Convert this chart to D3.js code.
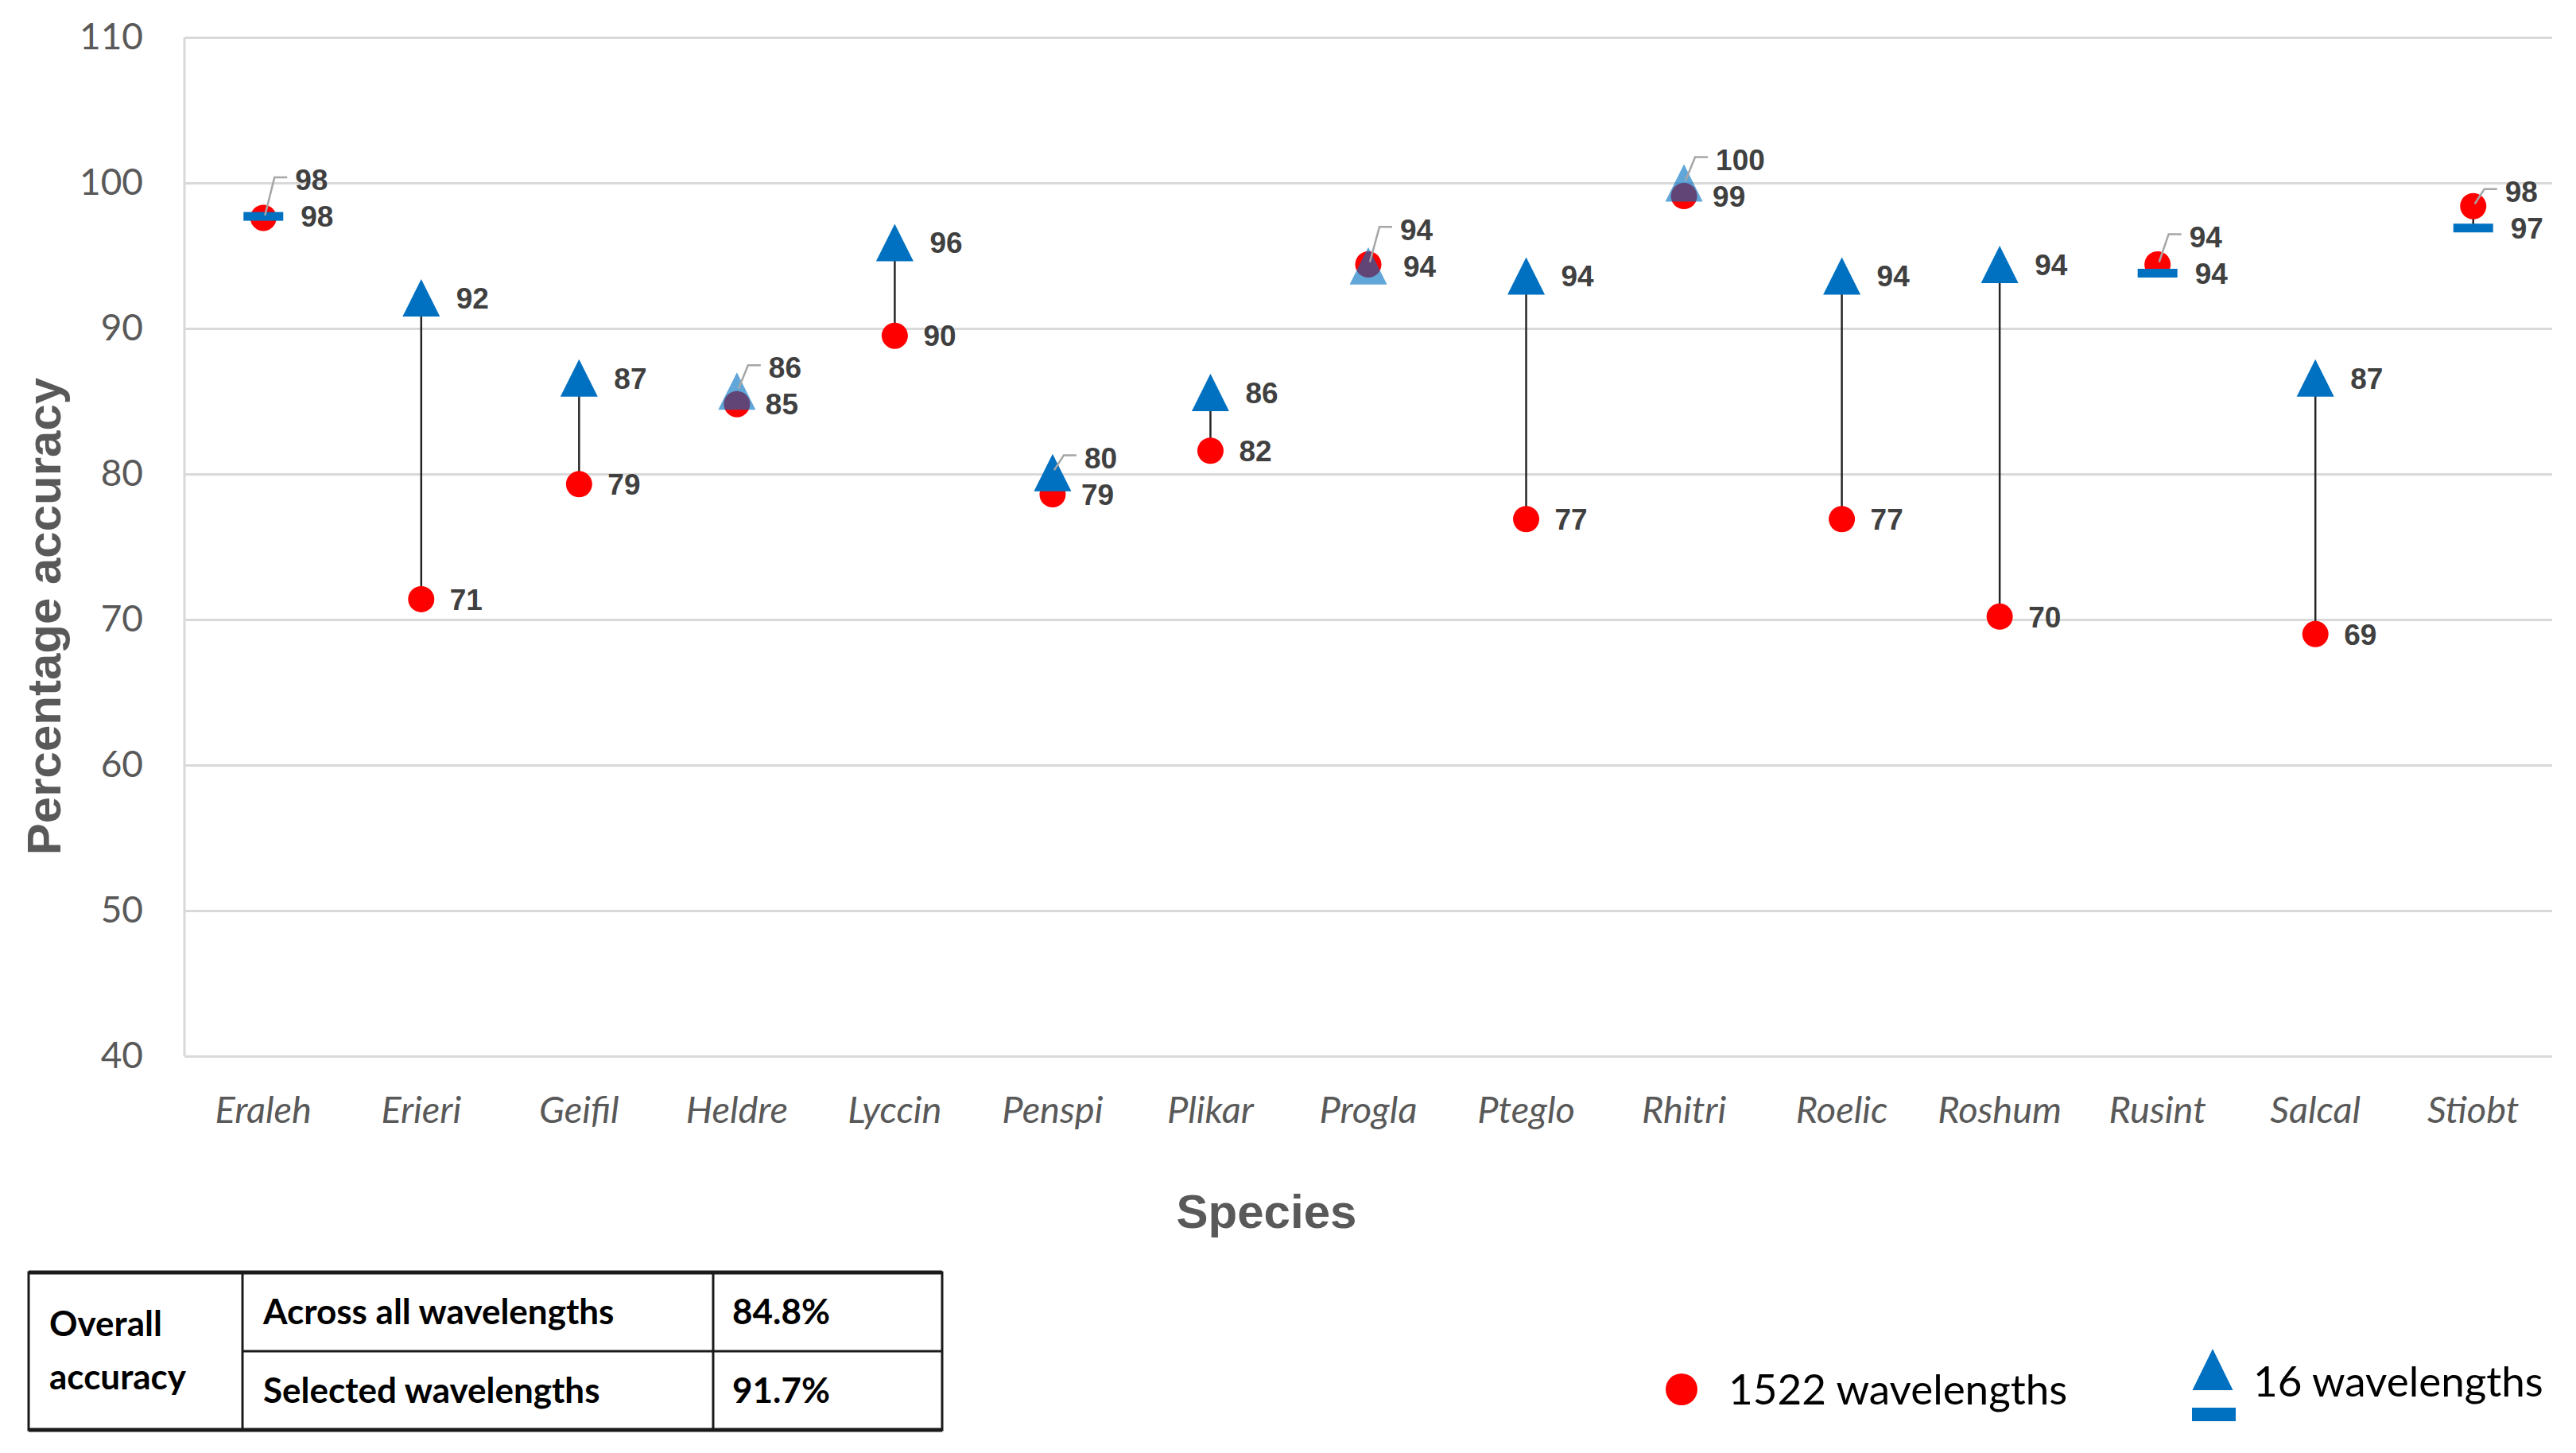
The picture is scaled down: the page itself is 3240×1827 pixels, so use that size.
<!DOCTYPE html>
<html>
<head>
<meta charset="utf-8">
<style>
  body { margin: 0; background: #fff; }
  svg { display: block; }
</style>
</head>
<body>
<svg width="3240" height="1827"></svg>
<script src="https://d3js.org/d3.v7.min.js"></script>
<script>

var species = ["Eraleh", "Erieri", "Geifil", "Heldre", "Lyccin", "Penspi", "Plikar", "Progla",
               "Pteglo", "Rhitri", "Roelic", "Roshum", "Rusint", "Salcal", "Stiobt"];

// accuracy with all 1522 wavelengths (red circles)
var all1522 = [97.6, 71.4, 79.3, 84.8, 89.5, 78.6, 81.6, 94.4, 76.9, 99.1, 76.9, 70.2, 94.4, 69.0, 98.4];

// accuracy with the 16 selected wavelengths (blue triangles / bars)
var sel16 = [97.7, 92.1, 86.6, 85.7, 95.9, 80.1, 85.6, 94.3, 93.6, 100.0, 93.6, 94.4, 93.8, 86.6, 96.9];
var selMarker = ["dash", "triangle", "triangle", "triangle", "triangle", "triangle", "triangle", "triangle",
                 "triangle", "triangle", "triangle", "triangle", "dash", "triangle", "dash"];

var yTicks = [40, 50, 60, 70, 80, 90, 100, 110];

var tableRows = ["Across all wavelengths", "Selected wavelengths"];
var tableValues = ["84.8%", "91.7%"];

var legendLabels = ["1522 wavelengths", "16 wavelengths"];

var svg = d3.select("svg"),
    margin = {top: 47, right: 30, bottom: 499, left: 232},
    width = +svg.attr("width") - margin.left - margin.right,
    height = +svg.attr("height") - margin.top - margin.bottom,
    g = svg.append("g").attr("transform", "translate(" + margin.left + "," + margin.top + ")");

var red = "#ff0000", blue = "#0070c0", grey = "#595959";

var x = d3.scaleBand().domain(species).range([0, width]);
var y = d3.scaleLinear().domain([40, 110]).range([height, 0]);

// gridlines + y labels
var yAxis = g.append("g")
    .attr("class", "y-axis")
    .call(d3.axisLeft(y).tickValues(yTicks).tickSize(-width).tickPadding(52));
yAxis.select(".domain").remove();
yAxis.selectAll("line").attr("stroke", "#d9d9d9").attr("stroke-width", 3);
yAxis.selectAll("text")
    .attr("fill", grey)
    .attr("font-family", "Lato, sans-serif")
    .attr("font-size", 46);

g.append("line")
    .attr("x1", 0).attr("x2", 0)
    .attr("y1", 0).attr("y2", height)
    .attr("stroke", "#d9d9d9").attr("stroke-width", 3);

// x labels
var xAxis = g.append("g")
    .attr("transform", "translate(0," + height + ")")
    .call(d3.axisBottom(x).tickSize(0));
xAxis.select(".domain").remove();
xAxis.selectAll("text")
    .attr("y", 84).attr("dy", 0)
    .attr("fill", grey)
    .attr("font-family", "Lato, sans-serif")
    .attr("font-style", "italic")
    .attr("font-size", 47);

// axis titles
svg.append("text")
    .attr("transform", "translate(76,775) rotate(-90)")
    .attr("text-anchor", "middle")
    .attr("fill", grey)
    .attr("font-family", "Liberation Sans, Arial, sans-serif")
    .attr("font-weight", "bold")
    .attr("font-size", 60)
    .text("Percentage accuracy");

svg.append("text")
    .attr("x", 1593).attr("y", 1544)
    .attr("text-anchor", "middle")
    .attr("fill", grey)
    .attr("font-family", "Liberation Sans, Arial, sans-serif")
    .attr("font-weight", "bold")
    .attr("font-size", 60)
    .text("Species");

var cx = function(i) { return x(species[i]) + x.bandwidth() / 2; };
var idx = d3.range(species.length);

// connectors
g.append("g").selectAll("line")
    .data(idx)
    .enter().append("line")
    .attr("x1", cx).attr("x2", cx)
    .attr("y1", function(i) { return y(all1522[i]); })
    .attr("y2", function(i) { return y(sel16[i]); })
    .attr("stroke", "#262626")
    .attr("stroke-width", 2.5);

// red circles
g.append("g").selectAll("circle")
    .data(idx)
    .enter().append("circle")
    .attr("cx", cx)
    .attr("cy", function(i) { return y(all1522[i]); })
    .attr("r", 16.5)
    .attr("fill", red);

// blue triangles / bars; nearly coincident triangles are see-through
var triW = 47, triH = 47, dashW = 50, dashH = 11;
function triPath(px, py, w, h) {
  return "M" + px + "," + (py - h / 2) + "L" + (px + w / 2) + "," + (py + h / 2) +
         "L" + (px - w / 2) + "," + (py + h / 2) + "Z";
}
g.append("g").selectAll("path")
    .data(idx.filter(function(i) { return selMarker[i] == "triangle"; }))
    .enter().append("path")
    .attr("d", function(i) { return triPath(cx(i), y(sel16[i]), triW, triH); })
    .attr("fill", blue)
    .attr("fill-opacity", function(i) { return Math.abs(sel16[i] - all1522[i]) < 1 ? 0.62 : 1; });

g.append("g").selectAll("rect")
    .data(idx.filter(function(i) { return selMarker[i] == "dash"; }))
    .enter().append("rect")
    .attr("x", function(i) { return cx(i) - dashW / 2; })
    .attr("y", function(i) { return y(sel16[i]) - dashH / 2; })
    .attr("width", dashW)
    .attr("height", dashH)
    .attr("fill", blue);

// data labels, pushed apart where two points crowd each other
var labels = [];
idx.forEach(function(i) {
  var yc = y(all1522[i]), ys = y(sel16[i]);
  var offC = 36, offS = selMarker[i] == "dash" ? 47 : 44;
  var a = {x: cx(i) + offC, y: yc, t: Math.round(all1522[i]), px: cx(i), py: yc, leader: false};
  var b = {x: cx(i) + offS, y: ys, t: Math.round(sel16[i]), px: cx(i), py: ys, leader: false};
  if (Math.abs(yc - ys) < 44) {
    var upper = (sel16[i] - all1522[i] > 0.5) ? b : a;
    var lower = upper === a ? b : a;
    var newY = Math.min(upper.y, lower.y - 46);
    if (upper.y - newY > 6) {
      upper.leader = true;
      upper.x = upper.px + 40;
    }
    upper.y = newY;
  }
  labels.push(a, b);
});

g.append("g").selectAll("path")
    .data(labels.filter(function(d) { return d.leader; }))
    .enter().append("path")
    .attr("d", function(d) {
      return "M" + (d.px + 2) + "," + (d.py - 3) + "L" + (d.px + 14) + "," + (d.y - 3) +
             "L" + (d.px + 30) + "," + (d.y - 3);
    })
    .attr("fill", "none")
    .attr("stroke", "#a6a6a6")
    .attr("stroke-width", 2.5);

g.append("g").selectAll("text")
    .data(labels)
    .enter().append("text")
    .attr("x", function(d) { return d.x; })
    .attr("y", function(d) { return d.y; })
    .attr("dy", "0.36em")
    .attr("fill", "#404040")
    .attr("font-family", "Liberation Sans, Arial, sans-serif")
    .attr("font-weight", "bold")
    .attr("font-size", 37)
    .text(function(d) { return d.t; });

// summary table
var tbl = svg.append("g").attr("font-family", "Lato, sans-serif").attr("font-weight", "bold")
    .attr("font-size", 44).attr("fill", "#000");
var tx = [36, 305, 897, 1185], ty = [1600, 1699, 1798];
tbl.append("rect")
    .attr("x", tx[0]).attr("y", ty[0])
    .attr("width", tx[3] - tx[0]).attr("height", ty[2] - ty[0])
    .attr("fill", "none").attr("stroke", "#1a1a1a").attr("stroke-width", 3);
[ty[0], ty[2]].forEach(function(v) {
  tbl.append("line").attr("x1", tx[0]).attr("x2", tx[3]).attr("y1", v).attr("y2", v)
      .attr("stroke", "#1a1a1a").attr("stroke-width", 5);
});
tbl.append("line").attr("x1", tx[1]).attr("x2", tx[3]).attr("y1", ty[1]).attr("y2", ty[1])
    .attr("stroke", "#1a1a1a").attr("stroke-width", 3);
[tx[1], tx[2]].forEach(function(v) {
  tbl.append("line").attr("x1", v).attr("x2", v).attr("y1", ty[0]).attr("y2", ty[2])
      .attr("stroke", "#1a1a1a").attr("stroke-width", 3);
});
tbl.append("text").attr("x", 62).attr("y", 1680).text("Overall");
tbl.append("text").attr("x", 62).attr("y", 1747).text("accuracy");
tableRows.forEach(function(r, i) {
  var yy = (ty[i] + ty[i + 1]) / 2 + 15;
  tbl.append("text").attr("x", 331).attr("y", yy).text(r);
  tbl.append("text").attr("x", 921).attr("y", yy).text(tableValues[i]);
});

// legend
var leg = svg.append("g").attr("font-family", "Lato, sans-serif").attr("font-size", 53).attr("fill", "#000");
leg.append("circle").attr("cx", 2115).attr("cy", 1747).attr("r", 20).attr("fill", red);
leg.append("text").attr("x", 2174).attr("y", 1747).attr("dy", "0.35em").text(legendLabels[0]);
leg.append("path").attr("d", triPath(2783, 1722, 51, 52)).attr("fill", blue);
leg.append("rect").attr("x", 2757).attr("y", 1770).attr("width", 55).attr("height", 17).attr("fill", blue);
leg.append("text").attr("x", 2834).attr("y", 1737).attr("dy", "0.35em").text(legendLabels[1]);

</script>
</body>
</html>
